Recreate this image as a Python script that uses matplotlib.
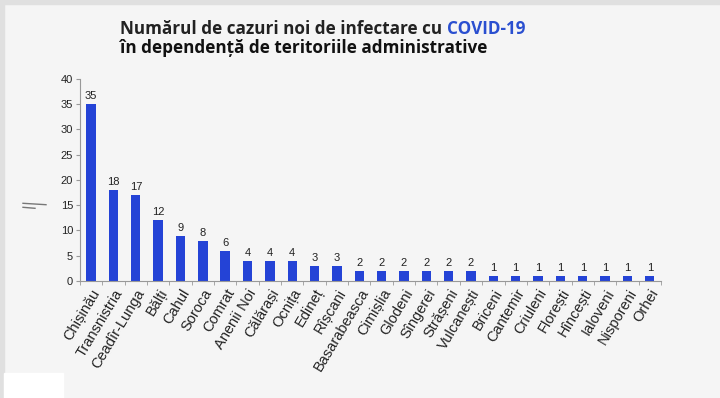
import matplotlib
matplotlib.use("Agg")
import matplotlib.pyplot as plt
from matplotlib.patches import Rectangle
from matplotlib.lines import Line2D
from matplotlib.ticker import FixedLocator

categories = ["Chișinău", "Transnistria", "Ceadîr-Lunga", "Bălți", "Cahul", "Soroca",
              "Comrat", "Anenii Noi", "Călărași", "Ocnița", "Edineț", "Rîșcani",
              "Basarabeasca", "Cimișlia", "Glodeni", "Sîngerei", "Strășeni",
              "Vulcanești", "Briceni", "Cantemir", "Criuleni", "Florești",
              "Hîncești", "Ialoveni", "Nisporeni", "Orhei"]
values = [35, 18, 17, 12, 9, 8, 6, 4, 4, 4, 3, 3, 2, 2, 2, 2, 2, 2, 1, 1, 1, 1, 1, 1, 1, 1]
yticks = [0, 5, 10, 15, 20, 25, 30, 35, 40]

W, H = 720, 398
bg = "#f5f5f5"
fig = plt.figure(figsize=(7.2, 3.98), dpi=100)
fig.patch.set_facecolor(bg)

def px(x, y):
    return x / W, 1 - y / H

# frame artifacts of the screenshot
fig.add_artist(Rectangle((0, 1 - 4 / H), 1, 4 / H, transform=fig.transFigure, color="#e0e0e0", zorder=0))
fig.add_artist(Rectangle((0, 0), 4 / W, 1, transform=fig.transFigure, color="#e0e0e0", zorder=0))
fig.add_artist(Rectangle((4 / W, 0), 59 / W, 25 / H, transform=fig.transFigure, color="white", zorder=0))

ax = fig.add_axes([0.111, 0.294, 0.807, 0.5075])
ax.set_facecolor(bg)
x = list(range(len(categories)))
ax.bar(x, values, width=0.42, color="#2443d6")
for xi, v in zip(x, values):
    ax.text(xi, v + 0.6, str(v), ha="center", va="bottom", fontsize=8,
            family="Liberation Sans", color="#222222")

ax.set_xlim(-0.5, len(categories) - 0.5)
ax.set_ylim(0, 40)
ax.set_yticks(yticks)
ax.set_yticklabels([str(t) for t in yticks], fontsize=8, family="Liberation Sans", color="#222222")
ax.set_xticks(x)
ax.set_xticklabels(categories, rotation=59, ha="right", rotation_mode="anchor",
                   fontsize=10.5, family="Liberation Sans", color="#222222")
ax.tick_params(axis="x", which="major", length=0, pad=4)
ax.xaxis.set_minor_locator(FixedLocator([i - 0.5 for i in range(len(categories) + 1)]))
ax.tick_params(axis="x", which="minor", length=3, color="#999999", direction="out")
ax.tick_params(axis="y", length=3, color="#999999", pad=2)
for s in ["top", "right"]:
    ax.spines[s].set_visible(False)
for s in ["left", "bottom"]:
    ax.spines[s].set_color("#999999")
    ax.spines[s].set_linewidth(0.8)

# title
ty1 = 1 - 34 / H
ty2 = 1 - 53 / H
t1 = fig.text(120 / W, ty1, "Numărul de cazuri noi de infectare cu ", fontsize=12.3,
              fontweight="bold", family="Open Sans", color="#222222", va="baseline")
fig.canvas.draw()
bb = t1.get_window_extent()
fig.text(bb.x1 / fig.bbox.width, ty1, "COVID-19", fontsize=12.3, fontweight="bold",
         family="Open Sans", color="#2a4fd0", va="baseline")
fig.text(120 / W, ty2, "în dependență de teritoriile administrative", fontsize=12.3,
         fontweight="bold", family="Open Sans", color="#111111", va="baseline")

# stray marks on the left
for (xa, ya, xb, yb) in [(23, 203.3, 46, 204.7), (23, 207.3, 35, 208.3)]:
    (x0, y0), (x1, y1) = px(xa, ya), px(xb, yb)
    fig.add_artist(Line2D([x0, x1], [y0, y1], transform=fig.transFigure,
                          color="#777777", linewidth=1.0))

fig.savefig("out.png", dpi=100, facecolor=bg)
